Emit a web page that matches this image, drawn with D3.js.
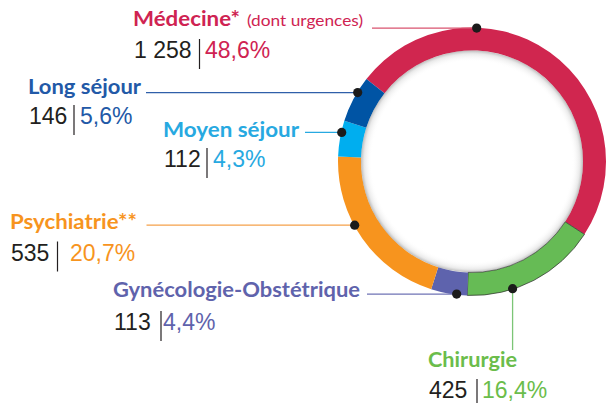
<!DOCTYPE html>
<html>
<head>
<meta charset="utf-8">
<script src="https://cdn.jsdelivr.net/npm/d3@7"></script>
<style>
  body { margin: 0; background: #fff; }
  svg { display: block; }
</style>
</head>
<body>
<svg></svg>
<script>
// Données (ordre du cercle, sens horaire)
const categories = ["Médecine*", "Chirurgie", "Gynécologie-Obstétrique", "Psychiatrie**", "Moyen séjour", "Long séjour"];
const counts = [1258, 425, 113, 535, 112, 146];
const countLabels = ["1 258", "425", "113", "535", "112", "146"];
const percents = ["48,6%", "16,4%", "4,4%", "20,7%", "4,3%", "5,6%"];
const notes = ["(dont urgences)", "", "", "", "", ""];

const ringColors = ["#d0264f", "#66bb55", "#5e63ad", "#f7941e", "#00aeef", "#0054a4"];
const textColors = ["#cf2352", "#6bbd4b", "#5f63ac", "#f7941e", "#27a9e1", "#2259a7"];
const lineColors = ["#d9536f", "#7cc576", "#6f73b5", "#f5a14a", "#27a9e1", "#2f5fa9"];

// Mise en page des étiquettes
const layout = [
    { x: 133, ty: 26, w: 107, ny: 58, sep: 199.5, px: 205, lineStart: 372, dotA: 2 },
    { x: 428, ty: 367, w: 89, ny: 398, sep: 477, px: 482, lineEnd: 350, dotA: 162.3, vertical: true },
    { x: 113, ty: 297, w: 247, ny: 330, sep: 161, px: 163, lineStart: 367, dotA: 186.6 },
    { x: 10, ty: 229, w: 127, ny: 260.5, sep: 57.5, px: 70, lineStart: 146.5, dotA: 241.5 },
    { x: 163, ty: 137, w: 136, ny: 167, sep: 207, px: 213, lineStart: 305, dotA: 282.6 },
    { x: 28, ty: 94, w: 113, ny: 124, sep: 74, px: 80, lineStart: 146, dotA: 301.1 }
];

const width = 607, height = 403;
const cx = 472, cy = 161.5;
const rOuter = 134, rInner = 111, rDot = 133.5;
const rad = Math.PI / 180;

const svg = d3.select("svg").attr("width", width).attr("height", height);

const defs = svg.append("defs");
const grad = defs.append("radialGradient").attr("id", "innerShadow");
grad.append("stop").attr("offset", "0.9").attr("stop-color", "#fff").attr("stop-opacity", 0);
grad.append("stop").attr("offset", "0.97").attr("stop-color", "#999").attr("stop-opacity", 0.2);
grad.append("stop").attr("offset", "1").attr("stop-color", "#777").attr("stop-opacity", 0.5);

const pie = d3.pie()
    .sort(null)
    .value(d => d)
    .startAngle(-52 * rad)
    .endAngle(-52 * rad + 2 * Math.PI);

const arc = d3.arc().innerRadius(rInner).outerRadius(rOuter);

const g = svg.append("g").attr("transform", "translate(" + cx + "," + cy + ")");

g.selectAll("path")
    .data(pie(counts))
    .enter()
    .append("path")
    .attr("d", arc)
    .attr("fill", (d, i) => ringColors[i])
    .attr("stroke", (d, i) => i == 1 ? "#2a2a2a" : "none")
    .attr("stroke-width", 0.7);

g.append("circle").attr("r", rInner).attr("fill", "url(#innerShadow)");

// Étiquettes
const polar = a => [cx + rDot * Math.sin(a * rad), cy - rDot * Math.cos(a * rad)];

categories.forEach((name, i) => {
    const L = layout[i];
    const [dx, dy] = polar(L.dotA);

    if (L.vertical) {
        svg.append("line")
            .attr("x1", dx).attr("x2", dx).attr("y1", dy).attr("y2", L.lineEnd)
            .attr("stroke", lineColors[i]).attr("stroke-width", 1.3);
    } else {
        svg.append("line")
            .attr("x1", L.lineStart).attr("x2", dx).attr("y1", dy).attr("y2", dy)
            .attr("stroke", lineColors[i]).attr("stroke-width", 1.3);
    }
    svg.append("circle").attr("cx", dx).attr("cy", dy).attr("r", 4.6).attr("fill", "#1b1b1b");

    svg.append("text")
        .attr("x", L.x).attr("y", L.ty)
        .attr("font-family", "Lato, 'Open Sans', sans-serif")
        .attr("font-weight", "bold")
        .attr("font-size", 21)
        .attr("textLength", L.w)
        .attr("lengthAdjust", "spacingAndGlyphs")
        .attr("fill", textColors[i])
        .text(name);

    if (notes[i]) {
        svg.append("text")
            .attr("x", 247).attr("y", L.ty)
            .attr("font-family", "Lato, 'Open Sans', sans-serif")
            .attr("font-size", 16)
            .attr("textLength", 116)
            .attr("lengthAdjust", "spacingAndGlyphs")
            .attr("fill", textColors[i])
            .text(notes[i]);
    }

    svg.append("text")
        .attr("x", L.x + 1).attr("y", L.ny)
        .attr("font-family", "'Liberation Sans', Arial, sans-serif")
        .attr("font-size", 23)
        .attr("fill", "#231f20")
        .text(countLabels[i]);

    svg.append("line")
        .attr("x1", L.sep).attr("x2", L.sep)
        .attr("y1", L.ny - 19).attr("y2", L.ny + 11)
        .attr("stroke", "#231f20").attr("stroke-width", 1.2);

    svg.append("text")
        .attr("x", L.px).attr("y", L.ny)
        .attr("font-family", "'Liberation Sans', Arial, sans-serif")
        .attr("font-size", 23)
        .attr("fill", textColors[i])
        .text(percents[i]);
});
</script>
</body>
</html>
